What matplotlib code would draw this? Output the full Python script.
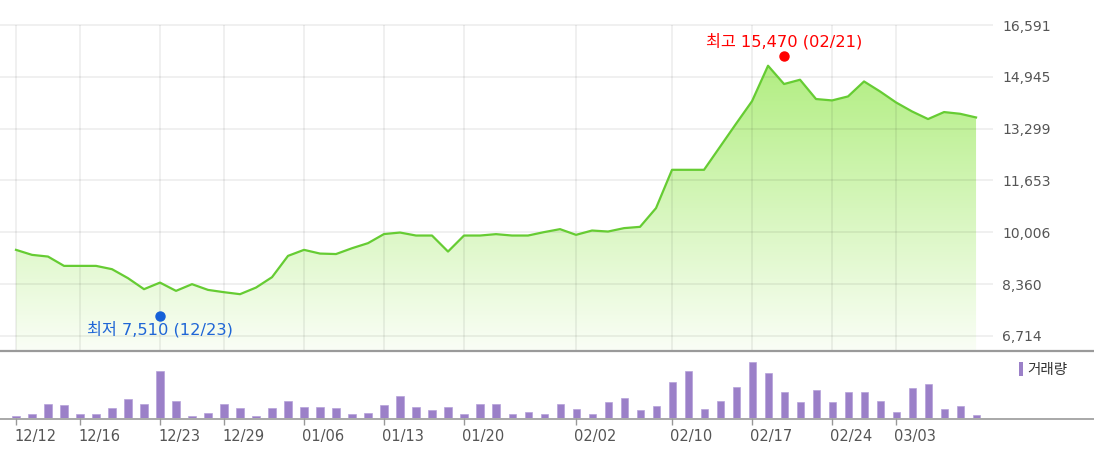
import numpy as np
import matplotlib
matplotlib.use("Agg")
import matplotlib.pyplot as plt
import matplotlib.colors as mcolors
import matplotlib.transforms as mtransforms
from matplotlib.lines import Line2D
from matplotlib.patches import Polygon, Patch

plt.rcParams['font.family'] = ['DejaVu Sans', 'Noto Sans CJK KR']

# daily close prices (61 trading days, 12/12 .. 03/07)
close = [9448, 9289, 9235, 8939, 8939, 8939, 8834, 8548, 8199, 8408,
         8145, 8358, 8176, 8103, 8040, 8250, 8580, 9257, 9448, 9330,
         9315, 9500, 9661, 9950, 9998, 9903, 9903, 9394, 9903, 9903,
         9947, 9903, 9903, 10011, 10106, 9925, 10062, 10030, 10138, 10179,
         10774, 11991, 11991, 11991, 12722, 13453, 14171, 15297, 14716, 14852,
         14239, 14195, 14322, 14798, 14480, 14131, 13845, 13603, 13825, 13771,
         13654]

# traded volume (relative units)
volume = [2.3, 3.6, 14.5, 12.9, 3.6, 3.6, 9.9, 19.1, 14.5, 46.9,
          17.5, 2.3, 5.3, 14.5, 9.9, 2.3, 9.9, 17.5, 11.2, 11.2,
          9.9, 3.6, 5.3, 12.9, 22.1, 11.2, 8.3, 11.0, 4.3, 14.0,
          14.0, 4.3, 6.0, 4.3, 14.0, 9.3, 4.3, 15.7, 20.3, 7.7,
          12.3, 36.0, 46.7, 9.3, 17.0, 31.0, 56.0, 45.0, 26.5, 15.7,
          28.2, 15.7, 26.5, 26.5, 17.2, 6.2, 29.7, 34.3, 9.3, 12.5,
          3.2]

tick_pos = [0, 4, 9, 13, 18, 23, 28, 35, 41, 46, 51, 55]
tick_labels = ['12/12', '12/16', '12/23', '12/29', '01/06', '01/13',
               '01/20', '02/02', '02/10', '02/17', '02/24', '03/03']
y_ticks = [6714, 8360, 10006, 11653, 13299, 14945, 16591]

high_idx, high_val, high_date = 48, 15470, '02/21'
low_idx, low_val, low_date = 9, 7510, '12/23'

W, H = 1094, 451
fig = plt.figure(figsize=(W / 100, H / 100), dpi=100)


def box(x0, y0, x1, y1):
    # pixel box -> figure fraction rect
    return [x0 / W, 1 - y1 / H, (x1 - x0) / W, (y1 - y0) / H]


ax = fig.add_axes(box(0, 25, 993, 351))
axv = fig.add_axes(box(0, 352, 993, 418))

x = np.arange(len(close))
xlim = (-1, 61.06)
ylo, yhi = 6235, 16591

# gradient area under the line
poly = Polygon(np.column_stack([np.r_[x[0], x, x[-1]], np.r_[ylo, close, ylo]]),
               closed=True, facecolor='none', edgecolor='none')
ax.add_patch(poly)
top_c = np.array(mcolors.to_rgb('#b2ee82'))
bot_c = np.array(mcolors.to_rgb('#fafef6'))
t = np.linspace(0, 1, 256)[:, None]
grad = bot_c + (top_c - bot_c) * t
img = ax.imshow(grad[:, None, :], extent=[x[0], x[-1], ylo, max(close)],
                origin='lower', aspect='auto', zorder=1)
img.set_clip_path(poly)

# grid
grid_c = (0, 0, 0, 0.065)
ax.hlines(y_ticks, xlim[0], xlim[1], color=grid_c, lw=1.3, zorder=2, clip_on=False)
ax.vlines(tick_pos, ylo, yhi, color=grid_c, lw=1.3, zorder=2)

ax.plot(x, close, color='#66cc33', lw=1.6, zorder=3, solid_joinstyle='round')

# high / low markers
up = ax.transData + mtransforms.ScaledTranslation(0, 4 / 100, fig.dpi_scale_trans)
dn = ax.transData + mtransforms.ScaledTranslation(0, -5 / 100, fig.dpi_scale_trans)
ax.plot(high_idx, high_val, 'o', color='#ff0000', ms=6.5, transform=up, zorder=4)
ax.plot(low_idx, low_val, 'o', color='#1560d8', ms=6.5, transform=dn, zorder=4)
ax.annotate(f'최고 {high_val:,} ({high_date})', xy=(high_idx, high_val),
            xytext=(0, 13.5), textcoords='offset points', ha='center', va='center',
            color='#ff0000', fontsize=11.7)
ax.annotate(f'최저 {low_val:,} ({low_date})', xy=(low_idx, low_val),
            xytext=(0, -13.5), textcoords='offset points', ha='center', va='center',
            color='#1f66d6', fontsize=11.7)

ax.set_xlim(xlim)
ax.set_ylim(ylo, yhi)
ax.set_xticks([])
ax.set_yticks(y_ticks)
ax.set_yticklabels([f'{v:,}' for v in y_ticks])
ax.yaxis.tick_right()
ax.tick_params(axis='y', length=0, pad=6.5, labelsize=10, labelcolor='#555555')
for s in ax.spines.values():
    s.set_visible(False)

# volume bars
axv.bar(x, volume, width=0.44, color='#9b80c8', edgecolor='#b6a2da', lw=0.5)
axv.set_xlim(xlim)
axv.set_ylim(0, 66)
axv.set_yticks([])
axv.set_xticks(tick_pos)
axv.set_xticklabels(tick_labels, ha='left')
axv.tick_params(axis='x', direction='out', length=5, width=1, color='#999999',
                pad=3, labelsize=10.5, labelcolor='#555555')
for lbl in axv.get_xticklabels():
    lbl.set_transform(lbl.get_transform() +
                      mtransforms.ScaledTranslation(-2 / 100, 0, fig.dpi_scale_trans))
for s in axv.spines.values():
    s.set_visible(False)

# full-width separator lines
fig.add_artist(Line2D([0, 1], [1 - 351 / H] * 2, transform=fig.transFigure,
                      color='#9a9a9a', lw=1.6))
fig.add_artist(Line2D([0, 1], [1 - 418.5 / H] * 2, transform=fig.transFigure,
                      color='#9a9a9a', lw=1.2))

fig.legend(handles=[Patch(facecolor='#9b80c8', edgecolor='none')], labels=['거래량'],
           loc='upper left', bbox_to_anchor=(1019 / W, 1 - 362 / H),
           handlelength=0.3, handleheight=1.1, handletextpad=0.3,
           borderpad=0, borderaxespad=0, frameon=False, fontsize=10.5,
           labelcolor='#333333')

fig.savefig('out.png', dpi=100)
